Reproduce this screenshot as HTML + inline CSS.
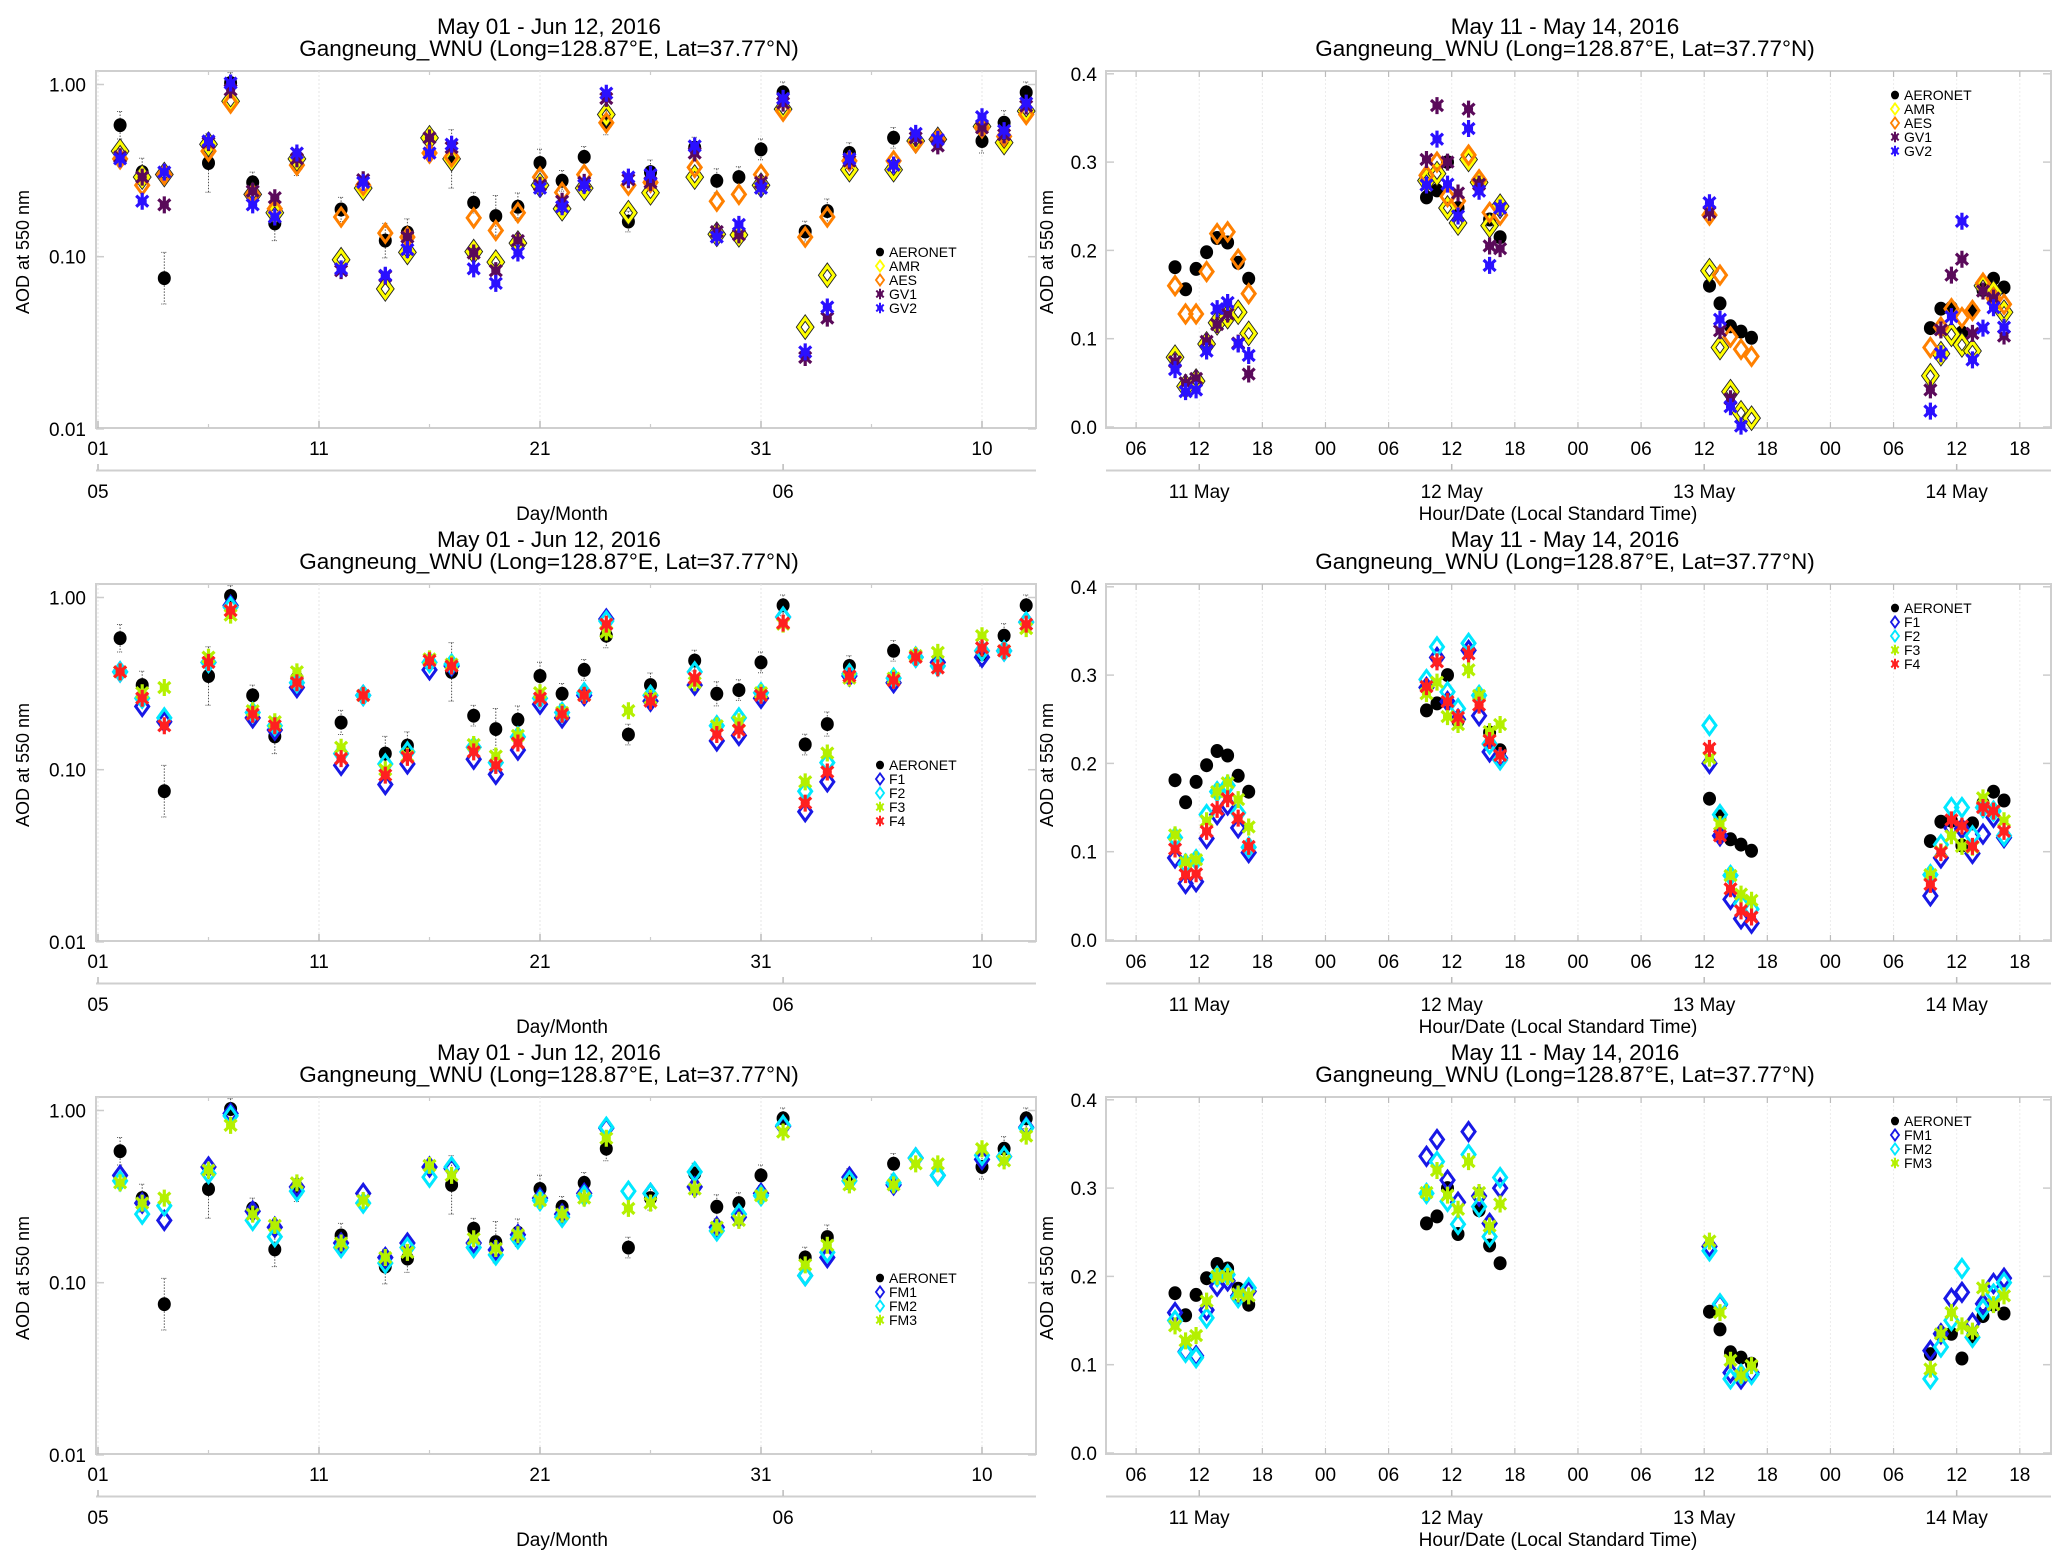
<!DOCTYPE html>
<html><head><meta charset="utf-8">
<style>
html,body{margin:0;padding:0;background:#fff;}
svg{display:block;font-family:"Liberation Sans",sans-serif;}
</style></head>
<body>
<svg id="fig" width="2067" height="1566" viewBox="0 0 2067 1566" xmlns="http://www.w3.org/2000/svg"></svg>
<script>
// ---------- LEFT PANELS (daily, log scale) ----------
const aerDays = [2,3,4,6,7,8,9,10,12,14,15,17,18,19,20,21,22,23,24,25,26,28,29,30,31,32,33,34,35,37,41,42,43];
const aerVals = [0.58,0.31,0.075,0.35,1.02,0.27,0.156,0.34,0.188,0.124,0.138,0.37,0.206,0.172,0.195,0.35,0.276,0.38,0.6,0.16,0.31,0.43,0.276,0.29,0.42,0.9,0.14,0.184,0.4,0.49,0.47,0.6,0.9];
const aerErr  = [0.08,0.08,0.15,0.17,0.06,0.06,0.1,0.06,0.07,0.1,0.08,0.17,0.06,0.12,0.08,0.08,0.06,0.06,0.07,0.06,0.07,0.06,0.07,0.06,0.06,0.06,0.06,0.07,0.06,0.06,0.07,0.07,0.06];
const days = [2,3,4,6,7,8,9,10,12,13,14,15,16,17,18,19,20,21,22,23,24,25,26,28,29,30,31,32,33,34,35,37,38,39,41,42,43];
const amrVals = [0.41,0.29,0.30,0.45,0.80,0.23,0.18,0.37,0.096,0.25,0.065,0.106,0.49,0.37,0.107,0.093,0.12,0.26,0.19,0.25,0.67,0.18,0.235,0.29,0.135,0.134,0.26,0.72,0.039,0.078,0.32,0.32,0.47,0.48,0.57,0.46,0.70];
const aesVals = [0.37,0.26,0.30,0.41,0.78,0.23,0.19,0.34,0.17,0.26,0.137,0.13,0.40,0.38,0.168,0.142,0.18,0.29,0.236,0.30,0.6,0.26,0.27,0.33,0.21,0.23,0.30,0.70,0.13,0.17,0.36,0.36,0.46,0.48,0.56,0.50,0.67];
const gv1Vals = [0.38,0.29,0.20,0.46,0.93,0.24,0.22,0.37,0.083,0.28,0.077,0.13,0.49,0.43,0.105,0.083,0.124,0.26,0.21,0.27,0.83,0.28,0.27,0.40,0.14,0.134,0.27,0.78,0.026,0.044,0.36,0.34,0.49,0.44,0.56,0.51,0.75];
const gv2Vals = [0.37,0.21,0.31,0.47,1.02,0.20,0.17,0.40,0.085,0.27,0.078,0.11,0.40,0.45,0.085,0.07,0.105,0.25,0.195,0.26,0.89,0.29,0.30,0.44,0.13,0.154,0.25,0.83,0.028,0.051,0.37,0.34,0.52,0.48,0.65,0.54,0.78];
const f1Vals = [0.37,0.233,0.19,0.42,0.90,0.20,0.17,0.30,0.106,0.27,0.082,0.108,0.38,0.40,0.115,0.094,0.13,0.24,0.20,0.27,0.75,null,0.25,0.31,0.147,0.158,0.26,0.77,0.057,0.085,0.35,0.32,0.45,0.42,0.45,0.49,0.72];
const f2Vals = [0.37,0.26,0.20,0.42,0.88,0.215,0.18,0.32,0.124,0.27,0.108,0.127,0.42,0.41,0.135,0.11,0.155,0.26,0.215,0.28,0.73,null,0.27,0.37,0.18,0.20,0.28,0.77,0.075,0.11,0.36,0.34,0.45,0.40,0.49,0.49,0.72];
const f3Vals = [0.37,0.28,0.30,0.45,0.79,0.22,0.19,0.37,0.135,0.27,0.10,0.12,0.44,0.41,0.14,0.12,0.158,0.28,0.215,0.27,0.63,0.22,0.26,0.32,0.18,0.19,0.28,0.70,0.085,0.125,0.34,0.34,0.46,0.48,0.60,0.49,0.66];
const f4Vals = [0.37,0.26,0.18,0.42,0.84,0.21,0.18,0.32,0.116,0.27,0.093,0.118,0.43,0.40,0.127,0.106,0.143,0.26,0.21,0.27,0.70,null,0.25,0.34,0.16,0.17,0.27,0.71,0.064,0.097,0.35,0.33,0.45,0.39,0.51,0.49,0.70];
const fm1Vals = [0.42,0.29,0.23,0.47,0.96,0.26,0.21,0.36,0.17,0.33,0.14,0.17,0.47,0.46,0.17,0.155,0.19,0.31,0.25,0.33,0.79,null,0.33,0.36,0.21,0.24,0.33,0.81,0.11,0.14,0.41,0.37,0.53,0.42,0.52,0.54,0.80];
const fm2Vals = [0.39,0.25,0.28,0.43,0.93,0.23,0.185,0.34,0.16,0.29,0.13,0.16,0.41,0.47,0.16,0.145,0.18,0.30,0.24,0.32,0.80,0.34,0.33,0.44,0.20,0.25,0.32,0.82,0.11,0.15,0.39,0.38,0.53,0.42,0.55,0.54,0.79];
const fm3Vals = [0.38,0.29,0.31,0.45,0.82,0.25,0.215,0.38,0.17,0.30,0.14,0.15,0.48,0.42,0.18,0.158,0.19,0.30,0.25,0.31,0.69,0.27,0.29,0.35,0.21,0.23,0.32,0.75,0.127,0.165,0.37,0.37,0.49,0.49,0.60,0.51,0.71];
const logTicks = [1.0,0.1,0.01];
const logTickLabels = ["1.00","0.10","0.01"];
const dayTicks = [1,11,21,31,41];
const dayTickLabels = ["01","11","21","31","10"];
const dayMinorTicks = [6,16,26,36];
const monthTicks = [1,32];
const monthLabels = ["05","06"];

// ---------- RIGHT PANELS (hourly, linear) ----------
const aerHours = [9.7,10.7,11.7,12.7,13.7,14.7,15.7,16.7, 33.6,34.6,35.6,36.6,38.6,39.6,40.6, 60.5,61.5,62.5,63.5,64.5, 81.5,82.5,83.5,84.5,85.5,86.5,87.5,88.5];
const aerHourVals = [0.181,0.156,0.179,0.198,0.214,0.209,0.186,0.168, 0.26,0.268,0.30,0.248,0.275,0.235,0.215, 0.16,0.14,0.114,0.108,0.101, 0.112,0.134,0.135,0.107,0.132,0.155,0.168,0.158];
const hours = [9.7,10.7,11.7,12.7,13.7,14.7,15.7,16.7, 33.6,34.6,35.6,36.6,37.6,38.6,39.6,40.6, 60.5,61.5,62.5,63.5,64.5, 81.5,82.5,83.5,84.5,85.5,86.5,87.5,88.5];
const hAmr = [0.079,0.046,0.052,0.094,0.118,0.125,0.13,0.106, 0.279,0.287,0.248,0.231,0.303,0.277,0.228,0.25, 0.177,0.09,0.04,0.016,0.01, 0.058,0.083,0.105,0.093,0.086,0.16,0.152,0.13];
const hAes = [0.16,0.128,0.128,0.176,0.219,0.221,0.19,0.151, 0.285,0.30,0.261,0.256,0.308,0.28,0.243,0.24, 0.24,0.172,0.102,0.088,0.08, 0.09,0.113,0.134,0.124,0.132,0.163,0.146,0.139];
const hGv1 = [0.074,0.05,0.055,0.097,0.116,0.128,0.095,0.06, 0.303,0.364,0.30,0.265,0.36,0.275,0.205,0.202, 0.243,0.109,0.032,null,null, 0.042,0.11,0.172,0.19,0.106,0.154,0.146,0.103];
const hGv2 = [0.065,0.04,0.042,0.086,0.134,0.141,0.094,0.081, 0.274,0.326,0.275,0.239,0.338,0.267,0.183,0.248, 0.254,0.122,0.023,0.001,null, 0.018,0.083,0.125,0.233,0.076,0.112,0.135,0.113];
const hF1 = [0.093,0.064,0.066,0.115,0.142,0.153,0.127,0.099, 0.286,0.32,0.27,0.25,0.328,0.254,0.213,0.206, 0.20,0.118,0.046,0.024,0.019, 0.05,0.093,0.127,0.126,0.098,0.12,0.139,0.116];
const hF2 = [0.116,0.086,0.091,0.142,0.168,0.175,0.144,0.105, 0.295,0.332,0.281,0.262,0.336,0.277,0.222,0.204, 0.243,0.142,0.073,0.041,0.035, 0.074,0.108,0.15,0.15,0.118,0.15,0.146,0.118];
const hF3 = [0.119,0.088,0.091,0.135,0.168,0.178,0.159,0.128, 0.279,0.292,0.253,0.244,0.306,0.277,0.236,0.244, 0.206,0.131,0.073,0.052,0.045, 0.074,0.10,0.118,0.106,0.105,0.161,0.146,0.135];
const hF4 = [0.103,0.074,0.075,0.123,0.148,0.16,0.138,0.106, 0.287,0.315,0.27,0.252,0.324,0.266,0.226,0.209, 0.217,0.118,0.058,0.033,0.026, 0.063,0.099,0.136,0.129,0.106,0.15,0.146,0.123];
const hFm1 = [0.159,0.115,0.11,0.162,0.189,0.195,0.178,0.183, 0.336,0.355,0.309,0.284,0.364,0.291,0.26,0.30, 0.234,0.168,0.091,0.084,0.091, 0.116,0.135,0.175,0.182,0.147,0.169,0.192,0.198];
const hFm2 = [0.15,0.114,0.108,0.153,0.2,0.202,0.176,0.187, 0.294,0.33,0.285,0.259,0.338,0.279,0.245,0.312, 0.229,0.169,0.084,0.089,0.089, 0.084,0.12,0.15,0.209,0.131,0.163,0.18,0.193];
const hFm3 = [0.144,0.127,0.133,0.172,0.2,0.2,0.18,0.178, 0.295,0.32,0.292,0.276,0.33,0.295,0.257,0.282, 0.24,0.159,0.105,0.088,0.099, 0.095,0.135,0.159,0.144,0.138,0.187,0.168,0.178];
const linTicks = [0.0,0.1,0.2,0.3,0.4];
const linTickLabels = ["0.0","0.1","0.2","0.3","0.4"];
const hourTicks = [6,12,18,24,30,36,42,48,54,60,66,72,78,84,90];
const hourTickLabels = ["06","12","18","00","06","12","18","00","06","12","18","00","06","12","18"];
const dateTicks = [12,36,60,84];
const dateLabels = ["11 May","12 May","13 May","14 May"];

// ---------- drawing ----------
const NS = "http://www.w3.org/2000/svg";
const svg = document.getElementById("fig");
function mk(tag, attrs, parent){
  const e = document.createElementNS(NS, tag);
  for (const k in attrs) e.setAttribute(k, attrs[k]);
  (parent||svg).appendChild(e);
  return e;
}
const L = {x0:96, x1:1036, top:71, bot:428};
const R = {x0:1106, x1:2051, top:71, bot:428};
function xDay(d){ return 98 + (d-1)*22.1; }
function yLog(v, off){ return off + 84.5 - Math.log10(v)*172.2; }
function xHour(h){ return 1073 + h*10.52; }
function yLin(v, off){ return off + 427 - v*883; }

const COL = {aer:"#000", amr:"#ffff00", aes:"#ff8000", gv1:"#5a0a5a", gv2:"#2a10ff",
  f1:"#1818e6", f2:"#00e8ff", f3:"#b4f000", f4:"#ff2020"};

function drawMarker(g, kind, color, x, y){
  if (kind==="circle"){
    return mk("ellipse",{cx:x.toFixed(1),cy:y.toFixed(1),rx:6.5,ry:7,fill:"#000"},g);
  }
  if (kind==="diamond" || kind==="diamondK"){
    const pts = `${x},${y-9} ${x+6.5},${y} ${x},${y+9} ${x-6.5},${y}`;
    const grp = mk("g",{},g);
    if (kind==="diamondK") mk("polygon",{points:pts,fill:"none",stroke:"#222","stroke-width":4.8},grp);
    mk("polygon",{points:pts,fill:"none",stroke:color,"stroke-width":3},grp);
    return grp;
  }
  const p = `M${x},${y-8.5}V${y+8.5}M${x-6},${y-5.5}L${x+6},${y+5.5}M${x-6},${y+5.5}L${x+6},${y-5.5}M${x-4.5},${y}H${x+4.5}`;
  return mk("path",{d:p,stroke:color,"stroke-width":3.2,fill:"none"},g);
}

function title(cx, off, l1){
  const t1 = mk("text",{x:cx,y:off+34,"text-anchor":"middle","font-size":22.5,fill:"#000"});
  t1.textContent = l1;
  
  
  const t2 = mk("text",{x:cx,y:off+56,"text-anchor":"middle","font-size":22.5,fill:"#000"});
  t2.textContent = "Gangneung_WNU (Long=128.87°E, Lat=37.77°N)";
  
  
}

function frame(g, P, off){
  mk("rect",{x:P.x0,y:off+P.top,width:P.x1-P.x0,height:P.bot-P.top,fill:"none",stroke:"#cfcfcf","stroke-width":2},g);
}

function legend(g, x, y, items){
  const lg = mk("g",{},g);
  
  
  items.forEach((it,i)=>{
    const yy = y + i*14;
    const e = mk("g",{},lg);
    
    
    const sg = mk("g",{transform:`translate(${x},${yy}) scale(0.62)`},e);
    drawMarker(sg, it.kind, it.color, 0, 0);
    const t = mk("text",{x:x+9,y:yy+5,"font-size":14,fill:"#000"},e);
    t.textContent = it.label;
  });
}

function leftPanel(off, series, legendItems, name){
  const g = mk("g",{});
  
  
  title(549, off, "May 01 - Jun 12, 2016");
  frame(g, L, off);
  dayTicks.forEach((d,i)=>{
    const x = xDay(d);
    mk("line",{x1:x,x2:x,y1:off+L.top,y2:off+L.bot,stroke:"#e4e4e4","stroke-width":1,"stroke-dasharray":"2,2"},g);
    mk("line",{x1:x,x2:x,y1:off+L.bot-7,y2:off+L.bot,stroke:"#bbb","stroke-width":1.5},g);
    const t = mk("text",{x:x,y:off+455,"text-anchor":"middle","font-size":19,fill:"#000"},g);
    t.textContent = dayTickLabels[i];
    
    
  });
  dayMinorTicks.forEach(d=>{
    const x = xDay(d);
    mk("line",{x1:x,x2:x,y1:off+L.bot-4,y2:off+L.bot,stroke:"#ccc","stroke-width":1.2},g);
    mk("line",{x1:x,x2:x,y1:off+L.top,y2:off+L.top+4,stroke:"#ccc","stroke-width":1.2},g);
  });
  mk("line",{x1:L.x0,x2:L.x1,y1:off+470.5,y2:off+470.5,stroke:"#cfcfcf","stroke-width":2},g);
  monthTicks.forEach((d,i)=>{
    const x = xDay(d);
    mk("line",{x1:x,x2:x,y1:off+464,y2:off+470,stroke:"#bbb","stroke-width":1.5},g);
    const t = mk("text",{x:x,y:off+498,"text-anchor":"middle","font-size":19,fill:"#000"},g);
    t.textContent = monthLabels[i];
    
    
  });
  const xt = mk("text",{x:562,y:off+520,"text-anchor":"middle","font-size":19,fill:"#000"},g);
  xt.textContent = "Day/Month";
  
  
  logTicks.forEach((v,i)=>{
    const y = yLog(v, off);
    mk("line",{x1:L.x0,x2:L.x0+8,y1:y,y2:y,stroke:"#ccc","stroke-width":1.5},g);
    mk("line",{x1:L.x1-8,x2:L.x1,y1:y,y2:y,stroke:"#ccc","stroke-width":1.5},g);
    const t = mk("text",{x:86,y:y+7,"text-anchor":"end","font-size":19,fill:"#000"},g);
    t.textContent = logTickLabels[i];
    
    
  });
  const yt = mk("text",{x:0,y:0,transform:`translate(29,${off+252}) rotate(-90)`,"text-anchor":"middle","font-size":18,fill:"#000"},g);
  yt.textContent = "AOD at 550 nm";
  
  
  const ag = mk("g",{},g);
  
  
  aerDays.forEach((d,i)=>{
    const x = xDay(d), v = aerVals[i];
    const yh = yLog(v*Math.pow(10,aerErr[i]), off), yl = yLog(v/Math.pow(10,aerErr[i]), off);
    mk("line",{x1:x,x2:x,y1:yh,y2:yl,stroke:"#555","stroke-width":1,"stroke-dasharray":"1.5,1.5"},ag);
    mk("line",{x1:x-3,x2:x+3,y1:yh,y2:yh,stroke:"#555","stroke-width":1,"stroke-dasharray":"1,1"},ag);
    mk("line",{x1:x-3,x2:x+3,y1:yl,y2:yl,stroke:"#555","stroke-width":1,"stroke-dasharray":"1,1"},ag);
    const m = drawMarker(ag,"circle","#000",x,yLog(v,off));
    
    
  });
  series.forEach(s=>{
    const sg = mk("g",{},g);
    
    
    days.forEach((d,i)=>{
      const v = s.vals[i];
      if (v==null) return;
      const m = drawMarker(sg, s.kind, s.color, xDay(d), yLog(v,off));
      
      
    });
  });
  legend(g, 880, off+252, legendItems);
}

function rightPanel(off, series, legendItems, name){
  const g = mk("g",{});
  
  
  title(1565, off, "May 11 - May 14, 2016");
  frame(g, R, off);
  hourTicks.forEach((h,i)=>{
    const x = xHour(h);
    mk("line",{x1:x,x2:x,y1:off+R.top,y2:off+R.bot,stroke:"#ececec","stroke-width":1,"stroke-dasharray":"2,2"},g);
    mk("line",{x1:x,x2:x,y1:off+R.bot-6,y2:off+R.bot,stroke:"#bbb","stroke-width":1.2},g);
    mk("line",{x1:x,x2:x,y1:off+R.top,y2:off+R.top+6,stroke:"#bbb","stroke-width":1.2},g);
    const t = mk("text",{x:x,y:off+455,"text-anchor":"middle","font-size":19,fill:"#000"},g);
    t.textContent = hourTickLabels[i];
    
    
  });
  mk("line",{x1:R.x0,x2:R.x1,y1:off+470.5,y2:off+470.5,stroke:"#cfcfcf","stroke-width":2},g);
  dateTicks.forEach((h,i)=>{
    const x = xHour(h);
    mk("line",{x1:x,x2:x,y1:off+464,y2:off+470,stroke:"#bbb","stroke-width":1.5},g);
    const t = mk("text",{x:x,y:off+498,"text-anchor":"middle","font-size":19,fill:"#000"},g);
    t.textContent = dateLabels[i];
    
    
  });
  const xt = mk("text",{x:1558,y:off+520,"text-anchor":"middle","font-size":19,fill:"#000"},g);
  xt.textContent = "Hour/Date (Local Standard Time)";
  
  
  linTicks.forEach((v,i)=>{
    const y = yLin(v, off);
    mk("line",{x1:R.x0,x2:R.x0+8,y1:y,y2:y,stroke:"#ccc","stroke-width":1.5},g);
    mk("line",{x1:R.x1-8,x2:R.x1,y1:y,y2:y,stroke:"#ccc","stroke-width":1.5},g);
    const t = mk("text",{x:1097,y:y+7,"text-anchor":"end","font-size":19,fill:"#000"},g);
    t.textContent = linTickLabels[i];
    
    
  });
  const yt = mk("text",{x:0,y:0,transform:`translate(1053,${off+252}) rotate(-90)`,"text-anchor":"middle","font-size":18,fill:"#000"},g);
  yt.textContent = "AOD at 550 nm";
  
  
  const ag = mk("g",{},g);
  
  
  aerHours.forEach((h,i)=>{
    const m = drawMarker(ag,"circle","#000",xHour(h),yLin(aerHourVals[i],off));
    
    
  });
  series.forEach(s=>{
    const sg = mk("g",{},g);
    
    
    hours.forEach((h,i)=>{
      const v = s.vals[i];
      if (v==null) return;
      const m = drawMarker(sg, s.kind, s.color, xHour(h), yLin(v,off));
      
      
    });
  });
  legend(g, 1895, off+95, legendItems);
}

const aerLeg = {label:"AERONET",kind:"circle",color:"#000"};
leftPanel(0, [
  {name:"amr",kind:"diamondK",color:COL.amr,vals:amrVals},
  {name:"aes",kind:"diamond",color:COL.aes,vals:aesVals},
  {name:"gv1",kind:"ast",color:COL.gv1,vals:gv1Vals},
  {name:"gv2",kind:"ast",color:COL.gv2,vals:gv2Vals}
],[aerLeg,{label:"AMR",kind:"diamond",color:COL.amr},{label:"AES",kind:"diamond",color:COL.aes},{label:"GV1",kind:"ast",color:COL.gv1},{label:"GV2",kind:"ast",color:COL.gv2}],"daily-panel-models");
rightPanel(0, [
  {name:"amr",kind:"diamondK",color:COL.amr,vals:hAmr},
  {name:"aes",kind:"diamond",color:COL.aes,vals:hAes},
  {name:"gv1",kind:"ast",color:COL.gv1,vals:hGv1},
  {name:"gv2",kind:"ast",color:COL.gv2,vals:hGv2}
],[aerLeg,{label:"AMR",kind:"diamond",color:COL.amr},{label:"AES",kind:"diamond",color:COL.aes},{label:"GV1",kind:"ast",color:COL.gv1},{label:"GV2",kind:"ast",color:COL.gv2}],"hourly-panel-models");
const fSeriesL = [
  {name:"f1",kind:"diamond",color:COL.f1,vals:f1Vals},
  {name:"f2",kind:"diamond",color:COL.f2,vals:f2Vals},
  {name:"f3",kind:"ast",color:COL.f3,vals:f3Vals},
  {name:"f4",kind:"ast",color:COL.f4,vals:f4Vals}];
const fLeg = [aerLeg,{label:"F1",kind:"diamond",color:COL.f1},{label:"F2",kind:"diamond",color:COL.f2},{label:"F3",kind:"ast",color:COL.f3},{label:"F4",kind:"ast",color:COL.f4}];
leftPanel(513, fSeriesL, fLeg, "daily-panel-f");
rightPanel(513, [
  {name:"f1",kind:"diamond",color:COL.f1,vals:hF1},
  {name:"f2",kind:"diamond",color:COL.f2,vals:hF2},
  {name:"f3",kind:"ast",color:COL.f3,vals:hF3},
  {name:"f4",kind:"ast",color:COL.f4,vals:hF4}], fLeg, "hourly-panel-f");
const fmLeg = [aerLeg,{label:"FM1",kind:"diamond",color:COL.f1},{label:"FM2",kind:"diamond",color:COL.f2},{label:"FM3",kind:"ast",color:COL.f3}];
leftPanel(1026, [
  {name:"fm1",kind:"diamond",color:COL.f1,vals:fm1Vals},
  {name:"fm2",kind:"diamond",color:COL.f2,vals:fm2Vals},
  {name:"fm3",kind:"ast",color:COL.f3,vals:fm3Vals}], fmLeg, "daily-panel-fm");
rightPanel(1026, [
  {name:"fm1",kind:"diamond",color:COL.f1,vals:hFm1},
  {name:"fm2",kind:"diamond",color:COL.f2,vals:hFm2},
  {name:"fm3",kind:"ast",color:COL.f3,vals:hFm3}], fmLeg, "hourly-panel-fm");
</script>
</body></html>
